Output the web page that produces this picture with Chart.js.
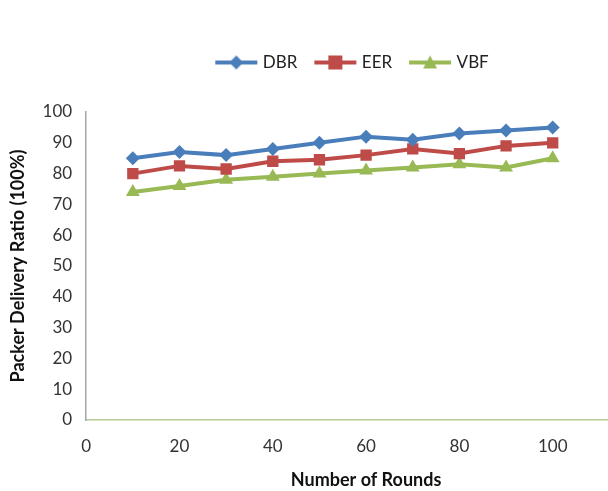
<!DOCTYPE html>
<html>
<head>
<meta charset="utf-8">
<script src="https://cdn.jsdelivr.net/npm/chart.js@4/dist/chart.umd.min.js"></script>
<style>
    html, body { margin: 0; padding: 0; background: #fff; overflow: hidden; }
    #wrap { width: 682px; height: 491px; }
</style>
</head>
<body>
<div id="wrap"><canvas id="chart"></canvas></div>
<script>
const rounds = [10, 20, 30, 40, 50, 60, 70, 80, 90, 100];
const dbr = [85, 87, 86, 88, 90, 92, 91, 93, 94, 95];
const eer = [80, 82.5, 81.5, 84, 84.5, 86, 88, 86.5, 89, 90];
const vbf = [74, 76, 78, 79, 80, 81, 82, 83, 82, 85];
const seriesNames = ['DBR', 'EER', 'VBF'];
const xTitle = 'Number of Rounds';
const yTitle = 'Packer Delivery Ratio (100%)';

const colors = ['#4a7ebb', '#be4b48', '#98b954'];
const styles = ['rectRot', 'rect', 'triangle'];
const radii = [7, 8, 8];
const FONT = 'Lato, "Open Sans", sans-serif';

// legend swatch: a short line with the marker on it
function swatch(color, style) {
    const c = document.createElement('canvas');
    c.width = 44; c.height = 18;
    const ctx = c.getContext('2d');
    ctx.strokeStyle = color;
    ctx.fillStyle = color;
    ctx.lineWidth = 4;
    ctx.beginPath();
    ctx.moveTo(1, 9); ctx.lineTo(43, 9);
    ctx.stroke();
    ctx.beginPath();
    if (style === 'rectRot') {
        ctx.moveTo(22, 2); ctx.lineTo(29, 9); ctx.lineTo(22, 16); ctx.lineTo(15, 9);
    } else if (style === 'rect') {
        ctx.rect(15, 2, 14, 14);
    } else {
        ctx.moveTo(22, 2); ctx.lineTo(29, 15); ctx.lineTo(15, 15);
    }
    ctx.closePath();
    ctx.fill();
    return c;
}

// extra room under the legend, and nudge it right like the original
const legendSpacer = {
    id: 'legendSpacer',
    beforeInit(chart) {
        const fit = chart.legend.fit;
        chart.legend.fit = function () {
            fit.call(this);
            this.height += 31;
        };
    },
    afterLayout(chart) {
        chart.legend.left += 27;
        chart.legend.right += 27;
    }
};

const values = [dbr, eer, vbf];
const datasets = seriesNames.map((name, i) => ({
    label: name,
    data: rounds.map((r, j) => ({ x: r, y: values[i][j] })),
    borderColor: colors[i],
    backgroundColor: colors[i],
    borderWidth: 4,
    pointStyle: styles[i],
    pointRadius: radii[i],
    pointHoverRadius: radii[i],
    pointBorderWidth: 0,
    tension: 0
}));

new Chart(document.getElementById('chart'), {
    type: 'line',
    data: { datasets },
    plugins: [legendSpacer],
    options: {
        responsive: true,
        maintainAspectRatio: false,
        animation: false,
        layout: { padding: { top: 34, right: 36, left: 7, bottom: 0 } },
        plugins: {
            tooltip: { enabled: false },
            legend: {
                position: 'top',
                labels: {
                    usePointStyle: true,
                    pointStyleWidth: 36,
                    padding: 20,
                    color: '#222',
                    font: { family: FONT, size: 17 },
                    generateLabels(chart) {
                        return chart.data.datasets.map((ds, i) => ({
                            text: ds.label,
                            pointStyle: swatch(colors[i], styles[i]),
                            fillStyle: colors[i],
                            strokeStyle: colors[i],
                            lineWidth: 0,
                            fontColor: '#222',
                            datasetIndex: i
                        }));
                    }
                }
            }
        },
        scales: {
            x: {
                type: 'linear',
                min: 0,
                max: 120,
                grid: { display: false, drawTicks: false },
                border: { color: '#b5cc94', width: 1.5 },
                ticks: { stepSize: 20, padding: 16, color: '#333', font: { family: FONT, size: 17 } },
                title: {
                    display: true,
                    text: xTitle,
                    color: '#111',
                    padding: { top: -3, bottom: 0 },
                    font: { family: FONT, size: 18, weight: 'bold' }
                }
            },
            y: {
                min: 0,
                max: 100,
                grid: { display: false, drawTicks: false },
                border: { color: '#a6a6a6', width: 1.5 },
                ticks: { stepSize: 10, padding: 14, color: '#333', font: { family: FONT, size: 17 } },
                title: {
                    display: true,
                    text: yTitle,
                    color: '#111',
                    padding: { top: 0, bottom: 0 },
                    font: { family: FONT, size: 18, weight: 'bold' }
                }
            }
        }
    }
});
</script>
</body>
</html>
